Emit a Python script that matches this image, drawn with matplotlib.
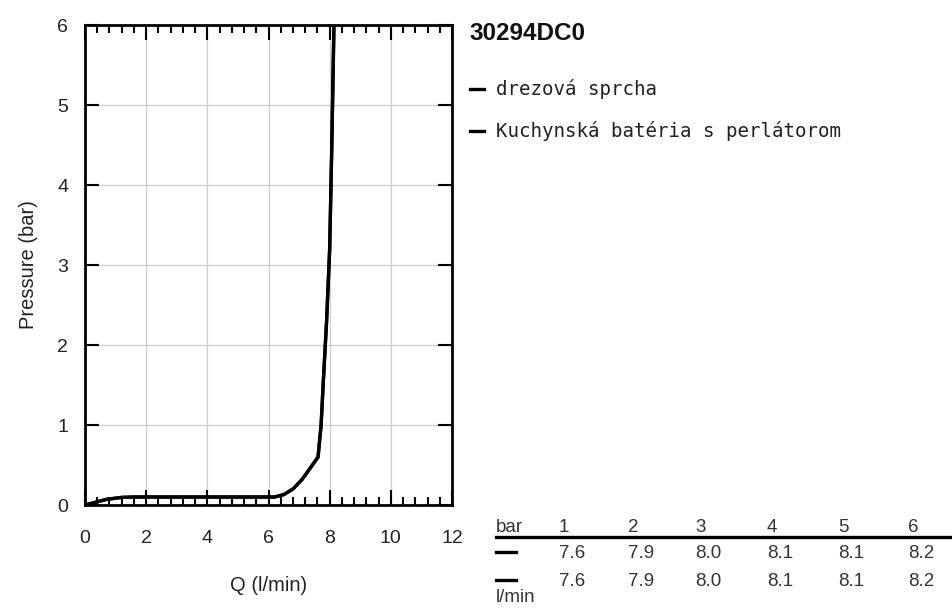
import matplotlib
matplotlib.use("Agg")
import matplotlib.pyplot as plt
from matplotlib.lines import Line2D
from matplotlib.ticker import MultipleLocator

# ---- data ----
title = "30294DC0"
series_names = ["drezová sprcha", "Kuchynská batéria s perlátorom"]
flow_q = [0, 0.3, 0.7, 1.2, 1.6, 6.2, 6.5, 6.8, 7.1, 7.4, 7.62, 7.72, 7.8, 7.9, 8.0, 8.07, 8.14]
pressure_1 = [0, 0.03, 0.07, 0.095, 0.1, 0.1, 0.13, 0.2, 0.32, 0.48, 0.6, 1.0, 1.6, 2.3, 3.2, 4.5, 6.0]
pressure_2 = [0, 0.03, 0.07, 0.095, 0.1, 0.1, 0.13, 0.2, 0.32, 0.48, 0.6, 1.0, 1.6, 2.3, 3.2, 4.5, 6.0]
table_bar = [1, 2, 3, 4, 5, 6]
table_flow_1 = [7.6, 7.9, 8.0, 8.1, 8.1, 8.2]
table_flow_2 = [7.6, 7.9, 8.0, 8.1, 8.1, 8.2]
x_ticks = [0, 2, 4, 6, 8, 10, 12]
y_ticks = [0, 1, 2, 3, 4, 5, 6]

W, H = 952, 614
fig = plt.figure(figsize=(W / 100, H / 100), dpi=100)
plt.rcParams['font.family'] = ['Liberation Sans', 'DejaVu Sans']

def fx(px):
    return px / W

def fy(py):
    return 1 - py / H

ax = fig.add_axes([fx(85), fy(505), fx(452) - fx(85), fy(25) - fy(505)])
ax.plot(flow_q, pressure_1, color='black', lw=2.4, solid_capstyle='butt', label=series_names[0], zorder=3)
ax.plot(flow_q, pressure_2, color='black', lw=2.4, solid_capstyle='butt', label=series_names[1], zorder=3)
ax.set_xlim(0, 12)
ax.set_ylim(0, 6)
ax.set_xticks(x_ticks)
ax.set_yticks(y_ticks)
ax.xaxis.set_minor_locator(MultipleLocator(0.4))
ax.grid(True, which='major', color='#cccccc', lw=0.9, zorder=0)
for s in ax.spines.values():
    s.set_linewidth(2.0)
ax.tick_params(axis='x', which='major', direction='in', length=11, width=1.5,
               top=True, bottom=True, labelsize=14, pad=18, labelcolor='#222222')
ax.tick_params(axis='x', which='minor', direction='in', length=6, width=1.5, top=True, bottom=True)
ax.tick_params(axis='y', which='major', direction='in', length=10, width=1.5,
               left=True, right=True, labelsize=14, pad=12, labelcolor='#222222')
ax.set_xlabel("Q (l/min)", fontsize=14.5, color='#222222', labelpad=21)
ax.set_ylabel("Pressure (bar)", fontsize=14.5, color='#222222', labelpad=14)

# title
fig.text(fx(469), fy(33), title, fontsize=17.5, fontweight='bold', va='center', ha='left', color='#111111')

# legend (manual)
for i, (name, line) in enumerate(zip(series_names, ax.get_lines())):
    yy = [89, 131][i]
    fig.add_artist(Line2D([fx(470), fx(484)], [fy(yy), fy(yy)], color=line.get_color(), lw=2.4,
                          transform=fig.transFigure))
    fig.text(fx(496), fy(yy), name, fontsize=13.8, family='DejaVu Sans Mono', va='center', ha='left',
             color='#222222')

# table
col_x = [559, 628, 695, 767, 838, 908]
fs = 13.5
fig.text(fx(496), fy(528), "bar", fontsize=fs, va='center', ha='left', color='#333333')
for cx, b in zip(col_x, table_bar):
    fig.text(fx(cx), fy(528), str(b), fontsize=fs, va='center', ha='left', color='#333333')
fig.add_artist(Line2D([fx(496), fx(952)], [fy(537), fy(537)], color='black', lw=2.4,
                      transform=fig.transFigure))
for ry, vals in zip([553, 581], [table_flow_1, table_flow_2]):
    fig.add_artist(Line2D([fx(496), fx(516)], [fy(ry - 1), fy(ry - 1)], color='black', lw=2.4,
                          transform=fig.transFigure))
    for cx, v in zip(col_x, vals):
        fig.text(fx(cx), fy(ry), f"{v:.1f}", fontsize=fs, va='center', ha='left', color='#333333')
fig.text(fx(496), fy(597), "l/min", fontsize=fs, va='center', ha='left', color='#333333')

fig.savefig("out.png", dpi=100)
